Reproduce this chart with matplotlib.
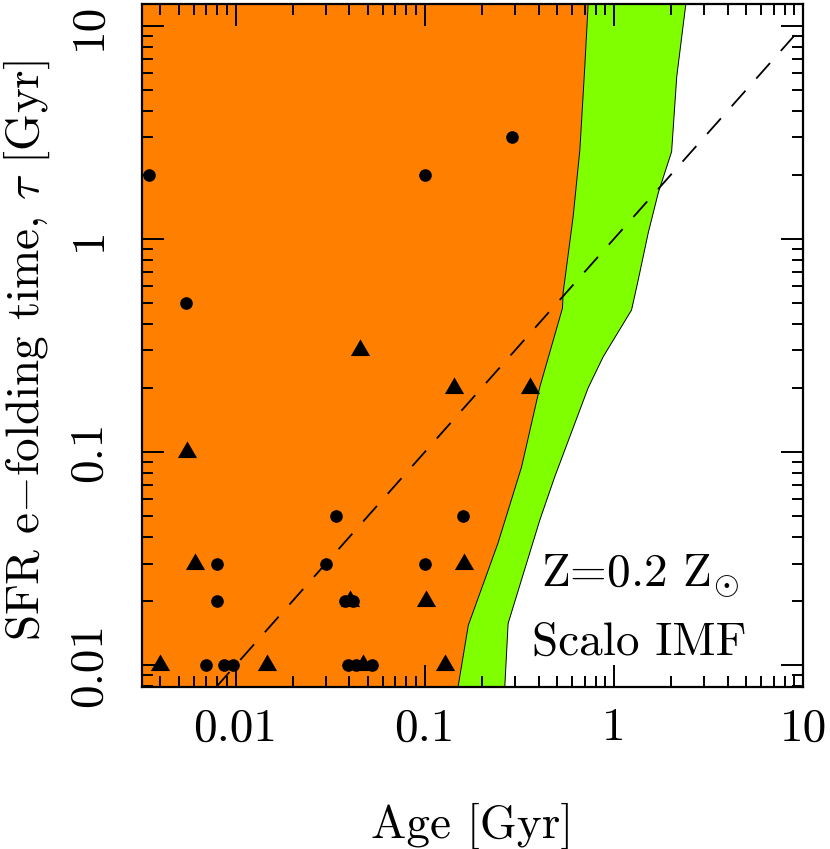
import numpy as np
import matplotlib
matplotlib.use('Agg')
import matplotlib.pyplot as plt
from matplotlib.ticker import FixedLocator, LogLocator, NullFormatter, FixedFormatter

# ---------------- data ----------------
# boundary of the orange region (age, tau), top to bottom
orange_age = [0.731, 0.702, 0.661, 0.609, 0.539, 0.535, 0.406, 0.325, 0.244, 0.170, 0.150]
orange_tau = [12.6, 6.44, 2.62, 1.27, 0.558, 0.474, 0.202, 0.0851, 0.0374, 0.0154, 0.0079]
# right boundary of the green band (age, tau), top to bottom
green_age = [2.40, 2.15, 2.02, 1.716, 1.519, 1.345, 1.24, 0.878, 0.731, 0.487, 0.406, 0.276, 0.265]
green_tau = [12.6, 5.78, 2.57, 1.644, 1.067, 0.642, 0.464, 0.280, 0.200, 0.0766, 0.048, 0.0157, 0.0079]

# circles
circ_age = [0.0035, 0.0055, 0.10, 0.29, 0.16, 0.10, 0.034, 0.008, 0.008, 0.030,
            0.0378, 0.0418, 0.0070, 0.00865, 0.0097, 0.0392, 0.0433, 0.0526]
circ_tau = [2, 0.5, 2, 3, 0.05, 0.03, 0.05, 0.03, 0.02, 0.03,
            0.02, 0.02, 0.01, 0.01, 0.01, 0.01, 0.01, 0.01]
# triangles
tri_age = [0.0453, 0.143, 0.36, 0.00555, 0.00607, 0.161, 0.0401, 0.102, 0.0040, 0.0146, 0.0472, 0.128]
tri_tau = [0.3, 0.2, 0.2, 0.1, 0.03, 0.03, 0.02, 0.02, 0.01, 0.01, 0.01, 0.01]

# tau = age reference line
line_age = np.array([0.0032, 10.0])
line_tau = line_age

x_ticks = [0.01, 0.1, 1, 10]
x_ticklabels = ['0.01', '0.1', '1', '10']
y_ticks = [0.01, 0.1, 1, 10]
y_ticklabels = ['0.01', '0.1', '1', '10']

xlim = (0.0032, 10)
ylim = (0.0079, 12.6)

# ---------------- style ----------------
plt.rcParams['font.family'] = 'cmr10'
plt.rcParams['mathtext.fontset'] = 'cm'
plt.rcParams['axes.unicode_minus'] = False
plt.rcParams['axes.formatter.use_mathtext'] = True

FS = 34

fig = plt.figure(figsize=(8.30, 8.49), dpi=100)
ax = fig.add_axes([142/830, 1-687/849, 661/830, 682.5/849])
ax.set_xscale('log')
ax.set_yscale('log')
ax.set_xlim(*xlim)
ax.set_ylim(*ylim)

# orange region
ox = [xlim[0]] + orange_age + [xlim[0]]
oy = [orange_tau[0]] + orange_tau + [orange_tau[-1]]
ax.fill(ox, oy, color='#FF8000', lw=0, zorder=1)
# green band
gx = orange_age + green_age[::-1]
gy = orange_tau + green_tau[::-1]
ax.fill(gx, gy, color='#80FF00', lw=0, zorder=1)
ax.plot(orange_age, orange_tau, color='k', lw=0.7, zorder=2)
ax.plot(green_age, green_tau, color='k', lw=0.7, zorder=2)

# dashed line
ax.plot(line_age, line_tau, color='k', lw=1.3, dashes=(11.5, 9), zorder=3)

# markers
tri_marker = [(0, 1), (-0.866, -0.5), (0.866, -0.5), (0, 1)]
ax.plot(circ_age, circ_tau, 'o', color='k', ms=9.1, mew=0, zorder=4, clip_on=True)
ax.plot(tri_age, tri_tau, linestyle='none', marker=tri_marker, color='k', ms=16, mew=0, zorder=4)

# ticks
ax.xaxis.set_major_locator(FixedLocator(x_ticks))
ax.xaxis.set_major_formatter(FixedFormatter(x_ticklabels))
ax.yaxis.set_major_locator(FixedLocator(y_ticks))
ax.yaxis.set_major_formatter(FixedFormatter(y_ticklabels))
ax.xaxis.set_minor_locator(LogLocator(base=10, subs=np.arange(2, 10), numticks=20))
ax.yaxis.set_minor_locator(LogLocator(base=10, subs=np.arange(2, 10), numticks=20))
ax.xaxis.set_minor_formatter(NullFormatter())
ax.yaxis.set_minor_formatter(NullFormatter())

ax.tick_params(which='both', direction='in', top=True, right=True, width=1.4, colors='k')
ax.tick_params(which='major', length=15.8)
ax.tick_params(which='minor', length=8)
ax.tick_params(axis='x', which='major', labelsize=FS, pad=15)
ax.tick_params(axis='y', which='major', labelsize=FS, pad=23, labelrotation=90)
for lbl in ax.get_yticklabels():
    lbl.set_va('center')
    lbl.set_ha('right')

for sp in ax.spines.values():
    sp.set_linewidth(1.6)

# labels
fig.text(472.5/830, 1-838/849, 'Age [Gyr]', fontsize=FS, ha='center', va='baseline')
fig.text(27/830, 1-351/849, r'SFR e$-$folding time, $\tau$ [Gyr]', fontsize=FS,
         rotation=90, ha='center', va='center')

ax.text(0.753, 0.148, r'Z=0.2 Z$_{\odot}$', transform=ax.transAxes, fontsize=FS,
        ha='center', va='baseline', zorder=5)
ax.text(0.753, 0.047, 'Scalo IMF', transform=ax.transAxes, fontsize=FS,
        ha='center', va='baseline', zorder=5)

fig.savefig('out.png', dpi=100)
